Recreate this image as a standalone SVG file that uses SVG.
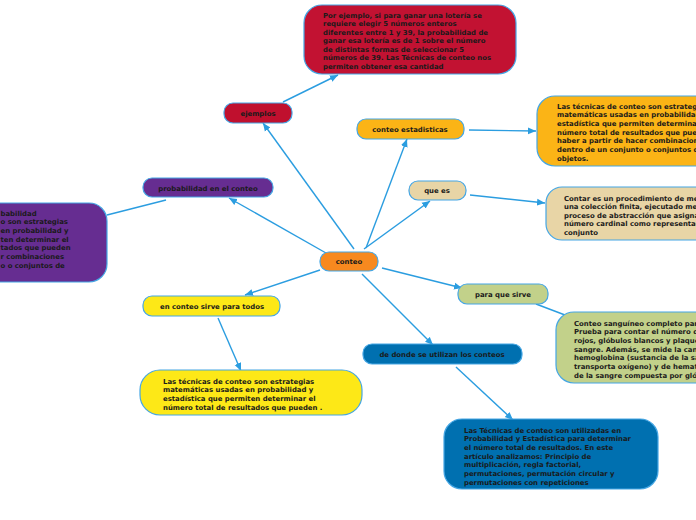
<svg xmlns="http://www.w3.org/2000/svg" width="696" height="520" viewBox="0 0 696 520">
<defs>
<marker id="arr" markerUnits="userSpaceOnUse" markerWidth="9" markerHeight="8" refX="8" refY="4" orient="auto">
<path d="M0,0.5 L8,4 L0,7.5 Z" fill="#2b9de0"/>
</marker>
</defs>
<style>
text{font-family:"DejaVu Sans",Verdana,sans-serif;font-weight:bold;font-size:6.9px;fill:#1a1a1a}
.c{text-anchor:middle}
.n{stroke:#45a6e4;stroke-width:1.2}
.l{stroke:#2b9de0;stroke-width:1.4;fill:none}
.a{marker-end:url(#arr)}
</style>
<rect width="696" height="520" fill="#ffffff"/>
<g id="connectors">
<line class="l a" x1="354" y1="249" x2="263" y2="123"/>
<line class="l a" x1="283" y1="102" x2="338" y2="75"/>
<line class="l a" x1="366" y1="248" x2="407" y2="139"/>
<line class="l a" x1="469" y1="130" x2="536" y2="131"/>
<line class="l a" x1="364" y1="249" x2="430" y2="201"/>
<line class="l a" x1="470" y1="195" x2="545" y2="203"/>
<line class="l a" x1="326" y1="253" x2="229" y2="198"/>
<line class="l" x1="166" y1="200" x2="107" y2="215"/>
<line class="l a" x1="320" y1="270" x2="245" y2="295"/>
<line class="l a" x1="218" y1="318" x2="241" y2="371"/>
<line class="l a" x1="382" y1="268" x2="462" y2="288"/>
<line class="l" x1="536" y1="304" x2="565" y2="315"/>
<line class="l a" x1="362" y1="274" x2="433" y2="345"/>
<line class="l a" x1="456" y1="367" x2="513" y2="420"/>
</g>
<g id="conteo">
<rect class="n" x="320" y="252" width="58" height="19" rx="9" fill="#f7891f"/>
<text class="c" x="349" y="264">conteo</text>
</g>
<g id="ejemplos">
<rect class="n" x="224" y="103" width="68" height="20" rx="9" fill="#c0102e"/>
<text class="c" x="258" y="116">ejemplos</text>
</g>
<g id="ejemplo-texto">
<rect class="n" x="304" y="5" width="212" height="69" rx="18" fill="#c21232"/>
<text x="323" y="17.5">Por ejemplo, si para ganar una lotería se</text>
<text x="323" y="26">requiere elegir 5 números enteros</text>
<text x="323" y="34.5">diferentes entre 1 y 39, la probabilidad de</text>
<text x="323" y="43">ganar esa lotería es de 1 sobre el número</text>
<text x="323" y="51.5">de distintas formas de seleccionar 5</text>
<text x="323" y="60">números de 39. Las Técnicas de conteo nos</text>
<text x="323" y="68.5">permiten obtener esa cantidad</text>
</g>
<g id="conteo-estadisticas">
<rect class="n" x="357" y="119" width="107" height="20" rx="9" fill="#fbb416"/>
<text class="c" x="410" y="132">conteo estadisticas</text>
</g>
<g id="estadisticas-texto">
<rect class="n" x="537" y="96" width="190" height="70" rx="18" fill="#fbb416"/>
<text x="557" y="108.5">Las técnicas de conteo son estrategias</text>
<text x="557" y="117.2">matemáticas usadas en probabilidad y</text>
<text x="557" y="125.9">estadística que permiten determinar el</text>
<text x="557" y="134.6">número total de resultados que pueden</text>
<text x="557" y="143.3">haber a partir de hacer combinaciones</text>
<text x="557" y="152">dentro de un conjunto o conjuntos de</text>
<text x="557" y="160.7">objetos.</text>
</g>
<g id="que-es">
<rect class="n" x="409" y="181" width="57" height="19" rx="9" fill="#e8d5a6"/>
<text class="c" x="437" y="193">que es</text>
</g>
<g id="que-es-texto">
<rect class="n" x="546" y="187" width="180" height="53" rx="16" fill="#e8d5a6"/>
<text x="564" y="200.5">Contar es un procedimiento de medida de</text>
<text x="564" y="209">una colección finita, ejecutado mediante un</text>
<text x="564" y="217.5">proceso de abstracción que asigna un</text>
<text x="564" y="226">número cardinal como representación del</text>
<text x="564" y="234.5">conjunto</text>
</g>
<g id="probabilidad">
<rect class="n" x="143" y="178" width="130" height="19" rx="9" fill="#662d91"/>
<text class="c" x="208" y="190.5">probabilidad en el conteo</text>
</g>
<g id="probabilidad-texto">
<rect class="n" x="-40" y="203" width="147" height="79" rx="18" fill="#662d91"/>
<text x="0.5" y="215.5">babilidad</text>
<text x="0.5" y="224.3">o son estrategias</text>
<text x="0.5" y="233">en probabilidad y</text>
<text x="0.5" y="241.7">ten determinar el</text>
<text x="0.5" y="250.4">tados que pueden</text>
<text x="0.5" y="259.1">r combinaciones</text>
<text x="0.5" y="267.8">o o conjuntos de</text>
</g>
<g id="sirve-todos">
<rect class="n" x="143" y="296" width="137" height="20" rx="9" fill="#fde817"/>
<text class="c" x="212" y="308.5">en conteo sirve para todos</text>
</g>
<g id="sirve-todos-texto">
<rect class="n" x="140" y="370" width="222" height="45" rx="20" fill="#fde817"/>
<text x="163" y="383.5">Las técnicas de conteo son estrategias</text>
<text x="163" y="392.2">matemáticas usadas en probabilidad y</text>
<text x="163" y="400.9">estadística que permiten determinar el</text>
<text x="163" y="409.6">número total de resultados que pueden .</text>
</g>
<g id="para-que-sirve">
<rect class="n" x="458" y="284" width="90" height="20" rx="9" fill="#c2d18a"/>
<text class="c" x="503" y="297">para que sirve</text>
</g>
<g id="para-que-sirve-texto">
<rect class="n" x="556" y="312" width="170" height="71" rx="18" fill="#c2d18a"/>
<text x="574" y="325.5">Conteo sanguíneo completo para</text>
<text x="574" y="334.2">Prueba para contar el número de glóbulos</text>
<text x="574" y="342.9">rojos, glóbulos blancos y plaquetas en la</text>
<text x="574" y="351.6">sangre. Además, se mide la cantidad de</text>
<text x="574" y="360.3">hemoglobina (sustancia de la sangre que</text>
<text x="574" y="369">transporta oxígeno) y de hematocrito</text>
<text x="574" y="377.7">de la sangre compuesta por glóbulos rojos)</text>
</g>
<g id="de-donde">
<rect class="n" x="363" y="344" width="159" height="20" rx="9" fill="#0070b0"/>
<text class="c" x="442" y="356.5">de donde se utilizan los conteos</text>
</g>
<g id="de-donde-texto">
<rect class="n" x="444" y="419" width="214" height="70" rx="18" fill="#0070b0"/>
<text x="464" y="432.5">Las Técnicas de conteo son utilizadas en</text>
<text x="464" y="441.2">Probabilidad y Estadística para determinar</text>
<text x="464" y="449.9">el número total de resultados. En este</text>
<text x="464" y="458.6">artículo analizamos: Principio de</text>
<text x="464" y="467.3">multiplicación, regla factorial,</text>
<text x="464" y="476">permutaciones, permutación circular y</text>
<text x="464" y="484.7">permutaciones con repeticiones</text>
</g>
</svg>
